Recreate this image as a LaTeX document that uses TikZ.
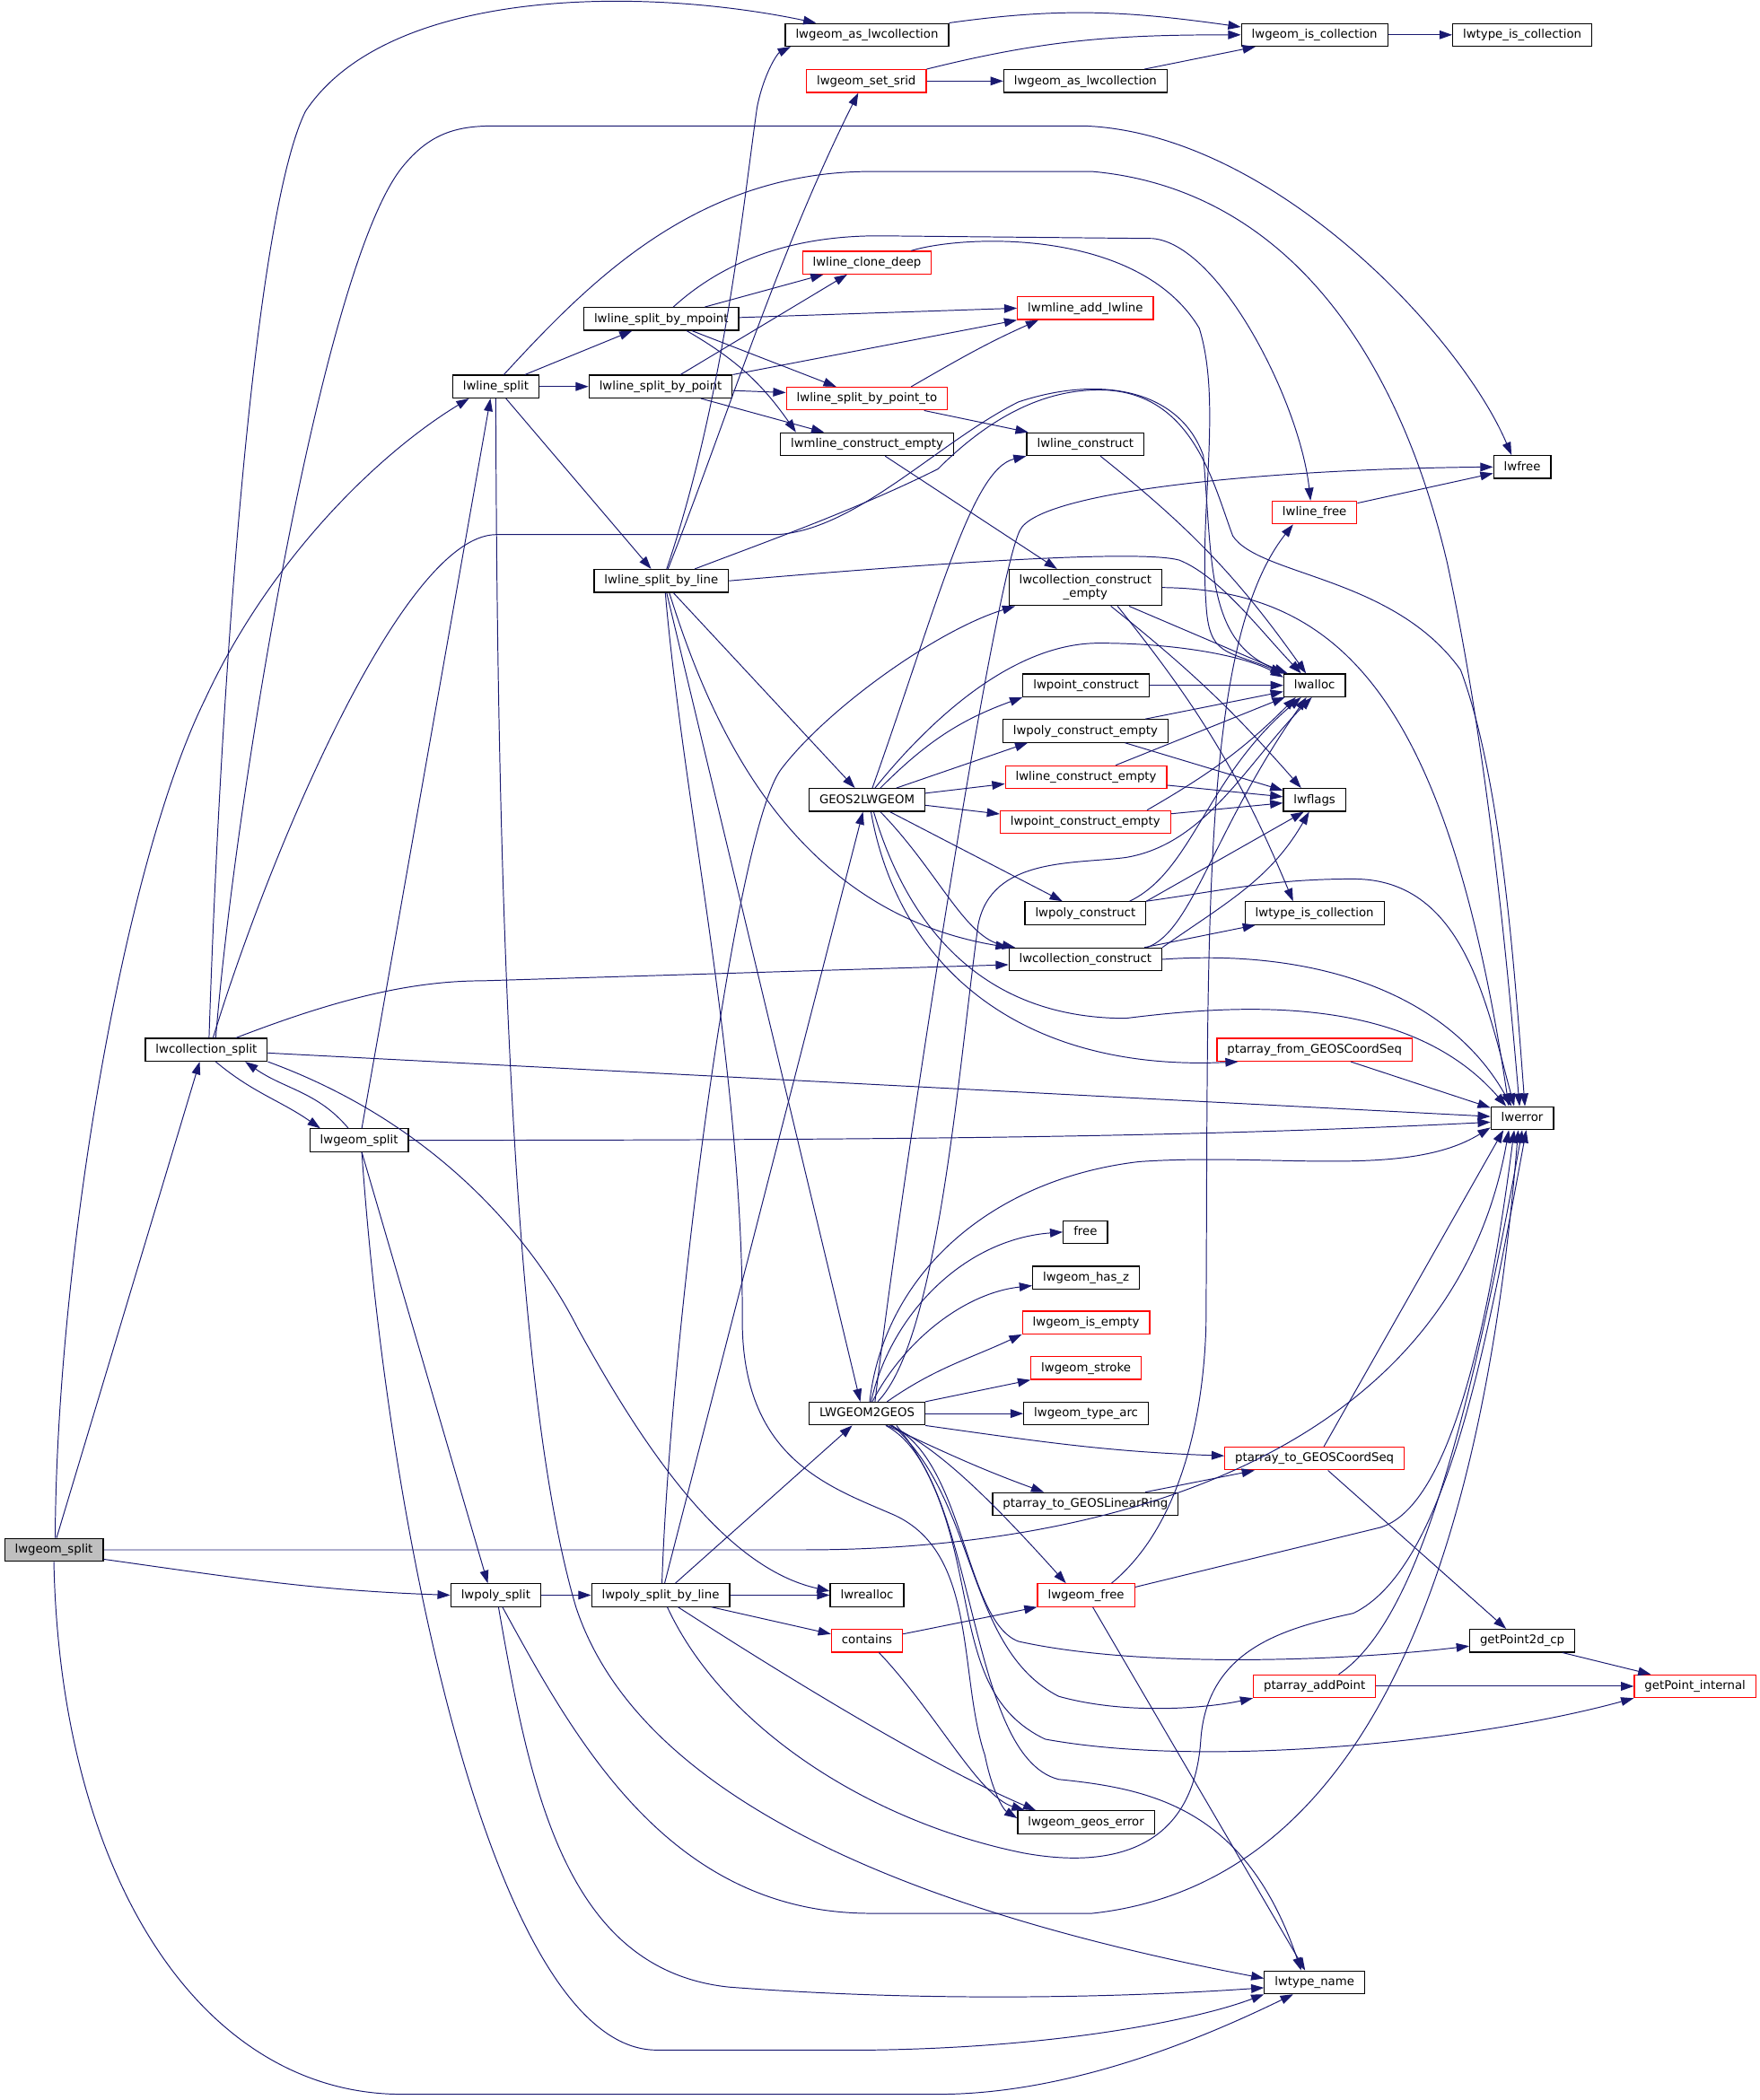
\documentclass[tikz,border=0pt]{standalone}
\usepackage{fontspec}
\setmainfont{DejaVu Sans}
\usetikzlibrary{arrows.meta}
\definecolor{edgeblue}{HTML}{191970}
\definecolor{selgray}{HTML}{BFBFBF}
\tikzset{
  fnbox/.style={draw=black,fill=white,line width=0.8pt,inner xsep=7.7pt,inner ysep=0pt,
    minimum height=17pt,text height=7pt,text depth=2pt,font=\fontsize{8.9pt}{10pt}\selectfont},
  fnboxred/.style={fnbox,draw=red},
  fnboxsel/.style={fnbox,fill=selgray},
  callto/.style={->,draw=edgeblue,line width=0.65pt}
}
\begin{document}
\begin{tikzpicture}[x=1pt,y=-1pt,>={Stealth[length=9.5pt,width=6.5pt,inset=0pt]}]
\useasboundingbox (0,0) rectangle (1312.8,1567.3);
% column 1-4
\node[fnboxsel] (split) at (40.2,1156.7) {lwgeom\_split};
\node[fnbox] (collsplit) at (154,783.5) {lwcollection\_split};
\node[fnbox] (geomsplit) at (268,851) {lwgeom\_split};
\node[fnbox] (linesplit) at (370,288.5) {lwline\_split};
\node[fnbox] (polysplit) at (370,1190.5) {lwpoly\_split};
\node[fnbox] (bympoint) at (493.5,238) {lwline\_split\_by\_mpoint};
\node[fnbox] (bypoint) at (493,288.5) {lwline\_split\_by\_point};
\node[fnbox] (byline) at (493.5,433.5) {lwline\_split\_by\_line};
\node[fnbox] (polybyline) at (493,1190.5) {lwpoly\_split\_by\_line};
% column 5
\node[fnbox] (ascoll) at (647,26) {lwgeom\_as\_lwcollection};
\node[fnboxred] (setsrid) at (646.5,60.5) {lwgeom\_set\_srid};
\node[fnboxred] (clonedeep) at (647,196) {lwline\_clone\_deep};
\node[fnboxred] (bypointto) at (647,297.5) {lwline\_split\_by\_point\_to};
\node[fnbox] (mlineempty) at (647,331.5) {lwmline\_construct\_empty};
\node[fnbox] (geostolw) at (647,597) {GEOS2LWGEOM};
\node[fnbox] (lwtogeos) at (647,1055) {LWGEOM2GEOS};
\node[fnbox] (realloc) at (647,1190.5) {lwrealloc};
\node[fnboxred] (contains) at (647,1224.5) {contains};
% column 6
\node[fnbox] (ascolltwo) at (810,60.5) {lwgeom\_as\_lwcollection};
\node[fnboxred] (addline) at (810,230) {lwmline\_add\_lwline};
\node[fnbox] (lineconst) at (810,331.5) {lwline\_construct};
\node[fnbox,minimum height=27pt,align=center,text height=,text depth=] (collempty) at (810,438.5) {lwcollection\_construct\\\_empty};
\node[fnbox] (pointconst) at (810.5,511.5) {lwpoint\_construct};
\node[fnbox] (polyempty) at (810,545.5) {lwpoly\_construct\_empty};
\node[fnboxred] (lineempty) at (810.5,580) {lwline\_construct\_empty};
\node[fnboxred] (pointempty) at (810,613.5) {lwpoint\_construct\_empty};
\node[fnbox] (polyconst) at (810,681.5) {lwpoly\_construct};
\node[fnbox] (collconst) at (810,716) {lwcollection\_construct};
\node[fnbox] (free) at (810,919.5) {free};
\node[fnbox] (hasz) at (810.5,953.5) {lwgeom\_has\_z};
\node[fnboxred] (isempty) at (810.5,987) {lwgeom\_is\_empty};
\node[fnboxred] (stroke) at (810.5,1021) {lwgeom\_stroke};
\node[fnbox] (typearc) at (810.5,1055) {lwgeom\_type\_arc};
\node[fnbox] (toring) at (810,1122.5) {ptarray\_to\_GEOSLinearRing};
\node[fnboxred] (geomfree) at (810.5,1190.5) {lwgeom\_free};
\node[fnbox] (geoserr) at (810.5,1360) {lwgeom\_geos\_error};
% column 7-9
\node[fnbox] (iscoll) at (981,26) {lwgeom\_is\_collection};
\node[fnboxred] (linefree) at (981,382.5) {lwline\_free};
\node[fnbox] (alloc) at (981,511.5) {lwalloc};
\node[fnbox] (flags) at (981,597) {lwflags};
\node[fnbox] (typecolltwo) at (981,681.5) {lwtype\_is\_collection};
\node[fnboxred] (fromseq) at (981,783.5) {ptarray\_from\_GEOSCoordSeq};
\node[fnboxred] (toseq) at (981,1088.5) {ptarray\_to\_GEOSCoordSeq};
\node[fnboxred] (addpt) at (981,1258.5) {ptarray\_addPoint};
\node[fnbox] (typename) at (981,1479.5) {lwtype\_name};
\node[fnbox] (typecoll) at (1136,26) {lwtype\_is\_collection};
\node[fnbox] (lwfree) at (1136,348.5) {lwfree};
\node[fnbox] (err) at (1136,834.5) {lwerror};
\node[fnbox] (getpt) at (1136,1224.5) {getPoint2d\_cp};
\node[fnboxred] (getptint) at (1265,1258.5) {getPoint\_internal};

% lwgeom_split
\draw[callto] ([xshift=2pt]split.north) -- ([xshift=-5pt]collsplit.south);
\draw[callto] ([xshift=1pt]split.north) .. controls (42,950) and (90,650) .. (153,522) .. controls (200,420) and (280,340) .. ([xshift=-20pt]linesplit.south);
\draw[callto] ([yshift=-7pt]split.east) to[out=-8,in=178] (polysplit.west);
\draw[callto] (split.east) -- (600,1156.7) to[out=0,in=-100] ([xshift=-10pt]err.south);
\draw[callto] (split.south) .. controls (45,1400) and (150,1563) .. (300,1563) -- (700,1563) .. controls (800,1563) and (900,1520) .. ([xshift=-16pt]typename.south);
% lwcollection_split
\draw[callto] ([xshift=2pt]collsplit.north) .. controls (165,500) and (190,160) .. (228,83) .. controls (290,-10) and (480,-10) .. ([xshift=-38pt]ascoll.north);
\draw[callto] ([xshift=7pt]collsplit.north) .. controls (175,600) and (240,200) .. (300,125) .. controls (320,100) and (340,94) .. (368,94) -- (810,94) .. controls (950,100) and (1090,250) .. ([xshift=-8pt]lwfree.north);
\draw[callto] ([xshift=5pt]collsplit.north) .. controls (200,640) and (300,400) .. (370,399) -- (580,399) .. controls (640,395) and (700,330) .. (760,300) .. controls (820,280) and (880,290) .. (898,340) .. controls (905,420) and (900,480) .. ([xshift=-20pt]alloc.north);
\draw[callto] ([xshift=22pt]collsplit.north) .. controls (240,750) and (300,732) .. (360,732) -- ([yshift=-4pt]collconst.west);
\draw[callto] (collsplit) -- (err);
\draw[callto] ([xshift=7pt]collsplit.south) to[out=-40,in=145] ([xshift=-29pt]geomsplit.north);
\draw[callto] (collsplit.south east) .. controls (330,840) and (400,930) .. (431,991) .. controls (480,1080) and (540,1170) .. ([yshift=3pt]realloc.west);
% lwgeom_split (recursive)
\draw[callto] ([xshift=-8pt]geomsplit.north) to[out=130,in=-35] ([xshift=29pt]collsplit.south);
\draw[callto] ([xshift=2pt]geomsplit.north) -- ([xshift=-4pt]linesplit.south);
\draw[callto] ([xshift=2pt]geomsplit.south) -- ([xshift=-6pt]polysplit.north);
\draw[callto] (geomsplit.east) .. controls (700,851) and (900,848) .. ([yshift=-3pt]err.west);
\draw[callto] ([xshift=2pt]geomsplit.south) .. controls (290,1150) and (370,1530) .. (490,1530) -- (650,1530) .. controls (800,1528) and (900,1505) .. (typename.south west);
% lwline_split
\draw[callto] (linesplit) -- (bympoint);
\draw[callto] (linesplit) -- (bypoint);
\draw[callto] (linesplit) -- (byline);
\draw[callto] ([xshift=6pt]linesplit.north) .. controls (440,210) and (520,128) .. (650,128) -- (815,128) .. controls (950,140) and (1040,250) .. (1080,420) .. controls (1110,560) and (1125,720) .. ([xshift=-2pt]err.north);
\draw[callto] (linesplit.south) .. controls (371,700) and (385,1050) .. (430,1200) .. controls (480,1350) and (700,1430) .. ([yshift=3pt]typename.west);
% lwpoly_split
\draw[callto] (polysplit) -- (polybyline);
\draw[callto] ([xshift=5pt]polysplit.south) .. controls (430,1300) and (500,1428) .. (650,1428) -- (815,1428) .. controls (980,1410) and (1100,1250) .. ([xshift=-3pt]err.south);
\draw[callto] ([xshift=2pt]polysplit.south) .. controls (395,1330) and (420,1470) .. (544,1483) .. controls (700,1495) and (850,1490) .. ([yshift=-4pt]typename.west);
% lwline_split_by_mpoint
\draw[callto] (bympoint) -- (clonedeep);
\draw[callto] ([yshift=1pt]bympoint.east) -- (addline.west);
\draw[callto] (bympoint) -- (bypointto);
\draw[callto] ([xshift=19pt]bympoint.south) to[out=-30,in=125] ([xshift=-53pt]mlineempty.north);
\draw[callto] ([xshift=9pt]bympoint.north) .. controls (540,195) and (590,176) .. (656,176) -- (860,178) .. controls (910,182) and (970,300) .. ([xshift=-3pt]linefree.north);
% lwline_split_by_point
\draw[callto] (bypoint) -- (clonedeep);
\draw[callto] (bypoint.north east) -- (addline.south west);
\draw[callto] ([yshift=-3pt]bypoint.east) -- ([yshift=4.5pt]bypointto.west);
\draw[callto] ([xshift=30pt]bypoint.south) -- ([xshift=-32pt]mlineempty.north);
% lwline_split_by_line
\draw[callto] ([xshift=4pt]byline.north) .. controls (540,300) and (555,150) .. (565,80) .. controls (570,55) and (580,40) .. ([xshift=-57pt]ascoll.south);
\draw[callto] ([xshift=5pt]byline.north) .. controls (540,320) and (580,190) .. ([xshift=-6pt]setsrid.south);
\draw[callto] ([xshift=25pt]byline.north) .. controls (570,405) and (640,380) .. (700,350) .. controls (740,310) and (780,291) .. (820,291) .. controls (890,291) and (905,360) .. (920,400) .. controls (940,430) and (1040,430) .. (1090,500) .. controls (1120,580) and (1130,720) .. ([xshift=2pt]err.north);
\draw[callto] (byline.east) .. controls (700,420) and (850,410) .. (880,418) .. controls (910,430) and (940,470) .. ([xshift=-10pt]alloc.north);
\draw[callto] ([xshift=9pt]byline.south) -- ([xshift=-9pt]geostolw.north);
\draw[callto] ([xshift=4pt]byline.south) -- ([xshift=-5pt]lwtogeos.north);
\draw[callto] ([xshift=6pt]byline.south) .. controls (530,540) and (590,680) .. (collconst.north west);
\draw[callto] ([xshift=3pt]byline.south) .. controls (510,600) and (555,800) .. (554,990) .. controls (556,1090) and (620,1110) .. (668,1131) .. controls (730,1160) and (715,1250) .. (735,1310) .. controls (740,1335) and (748,1350) .. ([yshift=3pt]geoserr.west);
% lwpoly_split_by_line
\draw[callto] (polybyline) -- (realloc);
\draw[callto] ([xshift=38pt]polybyline.south) -- ([yshift=5pt]contains.west);
\draw[callto] ([xshift=11pt]polybyline.north) -- ([xshift=-11pt]lwtogeos.south);
\draw[callto] ([xshift=3pt]polybyline.north) -- ([xshift=-3pt]geostolw.south);
\draw[callto] ([xshift=1pt]polybyline.north) .. controls (500,1000) and (548,620) .. (583,574) .. controls (618,528) and (700,470) .. ([xshift=5pt]collempty.south west);
\draw[callto] ([xshift=13pt]polybyline.south) .. controls (600,1260) and (700,1320) .. ([xshift=-37.5pt]geoserr.north);
\draw[callto] ([xshift=5pt]polybyline.south) .. controls (540,1290) and (650,1360) .. (764,1383) .. controls (830,1395) and (890,1380) .. (896,1300) .. controls (900,1230) and (960,1215) .. (1010,1204) .. controls (1080,1170) and (1110,1000) .. ([xshift=3pt]err.south);
% collection helpers
\draw[callto] (ascoll.north east) to[out=8,in=172] ([yshift=-3pt]iscoll.north west);
\draw[callto] (setsrid.north east) to[out=14,in=180] (iscoll.west);
\draw[callto] (setsrid) -- (ascolltwo);
\draw[callto] (ascolltwo) -- (iscoll);
\draw[callto] (iscoll) -- (typecoll);
% line split helpers
\draw[callto] ([xshift=33pt]bypointto.north) to[out=30,in=204] ([xshift=-35pt]addline.south);
\draw[callto] (bypointto) -- (lineconst);
\draw[callto] (mlineempty) -- (collempty);
\draw[callto] ([xshift=33pt]clonedeep.north) .. controls (720,175) and (850,170) .. (895,245) .. controls (912,300) and (895,380) .. (900,450) .. controls (902,490) and (915,485) .. (alloc.north west);
\draw[callto] (lineconst) to[bend left=8] (alloc);
\draw[callto] (linefree) -- (lwfree);
% constructors
\draw[callto] (collempty) -- (alloc);
\draw[callto] ([xshift=19pt]collempty.south) to[bend left=5] ([xshift=-10pt]flags.north);
\draw[callto] ([xshift=24pt]collempty.south) to[bend left=8] ([xshift=-16pt]typecolltwo.north);
\draw[callto] (collempty.east) .. controls (1000,440) and (1080,520) .. ([xshift=-10pt]err.north);
\draw[callto] (pointconst) -- (alloc);
\draw[callto] (polyempty) -- (alloc);
\draw[callto] (polyempty) -- (flags);
\draw[callto] (lineempty) -- (alloc);
\draw[callto] (lineempty) -- (flags);
\draw[callto] ([xshift=46pt]pointempty.north) to[out=30,in=-135] ([xshift=-14pt]alloc.south);
\draw[callto] (pointempty) -- (flags);
\draw[callto] ([xshift=33pt]polyconst.north) .. controls (890,650) and (900,580) .. ([xshift=-10pt]alloc.south);
\draw[callto] (polyconst.north east) -- ([xshift=-8pt]flags.south);
\draw[callto] (polyconst.north east) to[out=8,in=180] (1010,656) to[out=0,in=105] ([xshift=-6pt]err.north);
\draw[callto] ([xshift=46pt]collconst.north) .. controls (890,695) and (905,620) .. ([xshift=-6pt]alloc.south);
\draw[callto] (collconst.north east) to[out=35,in=-120] ([xshift=-4pt]flags.south);
\draw[callto] (collconst) -- (typecolltwo);
\draw[callto] (collconst.east) .. controls (980,708) and (1080,740) .. ([xshift=-8pt]err.north);
\draw[callto] (fromseq) -- (err);
% GEOS2LWGEOM
\draw[callto] ([xshift=4pt]geostolw.north) .. controls (700,450) and (725,350) .. (lineconst.south west);
\draw[callto] ([xshift=6pt]geostolw.north) .. controls (700,530) and (760,480) .. (820,480) .. controls (880,480) and (930,490) .. ([yshift=6pt]alloc.west);
\draw[callto] ([xshift=10pt]geostolw.north) to[out=45,in=200] (pointconst.south west);
\draw[callto] ([xshift=22pt]geostolw.north) -- ([xshift=-43pt]polyempty.south);
\draw[callto] ([yshift=5pt]geostolw.east) -- ([yshift=-5pt]lineempty.west);
\draw[callto] ([yshift=-4pt]geostolw.east) -- ([yshift=6pt]pointempty.west);
\draw[callto] (geostolw) -- (polyconst);
\draw[callto] ([xshift=10pt]geostolw.south) .. controls (700,650) and (720,700) .. ([xshift=5pt]collconst.north west);
\draw[callto] ([xshift=5pt]geostolw.south) .. controls (680,700) and (740,760) .. (840,760) .. controls (920,750) and (1050,740) .. ([xshift=-12pt]err.north);
\draw[callto] ([xshift=3pt]geostolw.south) .. controls (670,720) and (760,800) .. ([xshift=-57pt]fromseq.south);
% LWGEOM2GEOS
\draw[callto] ([xshift=6pt]lwtogeos.north) .. controls (670,900) and (740,440) .. (761,396) .. controls (775,366) and (950,350) .. (lwfree.west);
\draw[callto] ([xshift=8pt]lwtogeos.north) .. controls (700,1000) and (715,800) .. (730,690) .. controls (740,640) and (800,645) .. (840,640) .. controls (900,630) and (930,570) .. ([xshift=-2pt]alloc.south);
\draw[callto] ([xshift=2pt]lwtogeos.north) .. controls (660,950) and (740,880) .. (850,867) .. controls (950,860) and (1050,880) .. ([yshift=-7pt]err.west);
\draw[callto] ([xshift=3pt]lwtogeos.north) .. controls (665,980) and (720,925) .. (free.west);
\draw[callto] ([xshift=4pt]lwtogeos.north) .. controls (675,1000) and (720,965) .. ([yshift=-6pt]hasz.west);
\draw[callto] ([xshift=15pt]lwtogeos.north) to[out=35,in=205] (isempty.south west);
\draw[callto] (lwtogeos.north east) -- (stroke.south west);
\draw[callto] (lwtogeos) -- (typearc);
\draw[callto] (lwtogeos.south east) to[out=-8,in=178] ([yshift=2pt]toseq.west);
\draw[callto] ([xshift=15pt]lwtogeos.south) to[out=-25,in=160] ([xshift=-31pt]toring.north);
\draw[callto] ([xshift=17pt]lwtogeos.south) .. controls (700,1080) and (740,1120) .. ([xshift=-15pt]geomfree.north);
\draw[callto] ([xshift=18pt]lwtogeos.south) .. controls (720,1090) and (720,1210) .. (760,1225) .. controls (850,1245) and (1000,1240) .. ([yshift=-4pt]getpt.west);
\draw[callto] ([xshift=19pt]lwtogeos.south) .. controls (730,1120) and (720,1230) .. (790,1266) .. controls (840,1280) and (900,1275) .. (addpt.south west);
\draw[callto] ([xshift=22pt]lwtogeos.south) .. controls (740,1150) and (700,1260) .. (780,1298) .. controls (900,1320) and (1100,1300) .. (getptint.south west);
\draw[callto] ([xshift=14pt]lwtogeos.south) .. controls (730,1100) and (720,1310) .. (790,1328) .. controls (860,1335) and (930,1350) .. ([xshift=-10pt]typename.north);
% lwgeom_free and point arrays
\draw[callto] ([xshift=19pt]geomfree.north) .. controls (880,1140) and (898,1060) .. (900,990) .. controls (902,700) and (895,480) .. ([xshift=-16pt]linefree.south);
\draw[callto] ([yshift=6pt]geomfree.east) -- (1030,1140) .. controls (1080,1125) and (1110,1000) .. ([xshift=-6pt]err.south);
\draw[callto] ([xshift=5pt]geomfree.south) -- ([xshift=-7pt]typename.north);
\draw[callto] ([yshift=5pt]contains.east) -- (geomfree.south west);
\draw[callto] ([xshift=9pt]contains.south) .. controls (700,1280) and (730,1340) .. ([xshift=-46pt]geoserr.north);
\draw[callto] (toring) -- (toseq);
\draw[callto] ([xshift=7pt]toseq.north) -- ([xshift=-14pt]err.south);
\draw[callto] ([xshift=10pt]toseq.south) -- ([xshift=-12pt]getpt.north);
\draw[callto] ([xshift=30pt]getpt.south) -- ([xshift=-33pt]getptint.north);
\draw[callto] (addpt) -- (getptint);
\draw[callto] ([xshift=18pt]addpt.north) .. controls (1050,1215) and (1090,1100) .. (err.south);
\end{tikzpicture}
\end{document}
